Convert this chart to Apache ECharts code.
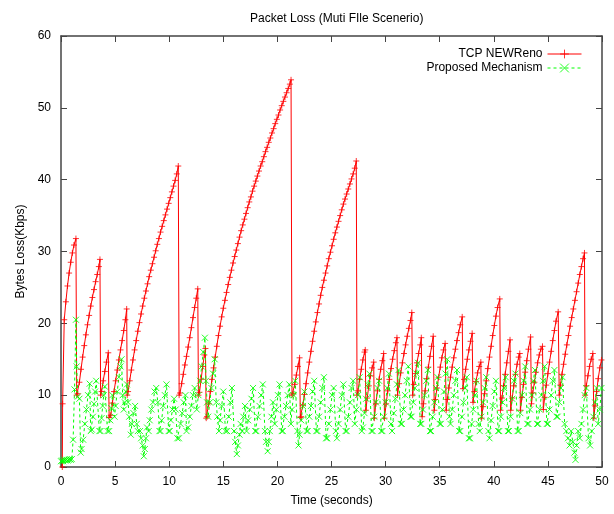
<!DOCTYPE html>
<html>
<head>
<meta charset="utf-8">
<script src="https://cdn.jsdelivr.net/npm/echarts@6/dist/echarts.min.js"></script>
<style>
  html, body { margin: 0; padding: 0; background: #fff; }
  #chart { width: 614px; height: 514px; }
</style>
</head>
<body>
<div id="chart"></div>
<script>
// axis ticks
const timeTicks = [0, 5, 10, 15, 20, 25, 30, 35, 40, 45, 50]
const lossTicks = [0, 10, 20, 30, 40, 50, 60]

// TCP NEWReno: [time (s), loss (Kbps)]
const renoStart = [
  [0.12, 0], [0.15, 8.8], [0.3, 20.5], [0.45, 23], [0.6, 25.2], [0.75, 27], [0.9, 28.5], [1.05, 29.8], [1.2, 30.9], [1.38, 31.8],
  [1.45, 10], [1.55, 10.2], [1.7, 11.8], [1.85, 13.6], [2.0, 15.3], [2.15, 16.9], [2.3, 18.4], [2.45, 19.8], [2.6, 21.1], [2.75, 22.4],
  [2.9, 23.6], [3.05, 24.7], [3.2, 25.8], [3.35, 26.8], [3.5, 27.9], [3.6, 28.9],
  [3.66, 10], [3.75, 10.5], [3.9, 12], [4.05, 13.3], [4.2, 14.6], [4.37, 15.9],
  [4.45, 6.9], [4.6, 7.2], [4.75, 8.9], [4.9, 10.5], [5.05, 12], [5.2, 13.5], [5.35, 14.9], [5.5, 16.3], [5.65, 17.6], [5.8, 19],
  [5.95, 20.5], [6.07, 22]
]
const renoRampA = [
  [6.12, 10], [6.2, 10.5], [6.35, 12], [6.5, 13.5], [6.65, 14.9], [6.8, 16.3], [6.95, 17.6], [7.1, 18.9], [7.25, 20.1], [7.4, 21.3],
  [7.55, 22.4], [7.7, 23.5], [7.85, 24.5], [8.0, 25.5], [8.15, 26.5], [8.3, 27.4], [8.45, 28.3], [8.6, 29.2], [8.75, 30.1], [8.9, 31],
  [9.05, 31.8], [9.2, 32.7], [9.35, 33.5], [9.5, 34.3], [9.65, 35.1], [9.8, 35.9], [9.95, 36.7], [10.1, 37.5], [10.25, 38.3],
  [10.4, 39.1], [10.55, 39.9], [10.7, 40.8], [10.84, 41.9],
  [10.92, 10], [11.0, 10.3], [11.15, 11.6], [11.3, 12.9], [11.45, 14.2], [11.6, 15.4], [11.75, 16.7], [11.9, 18], [12.05, 19.4],
  [12.2, 20.8], [12.35, 22.2], [12.5, 23.5], [12.64, 24.8],
  [12.7, 10], [12.8, 10.4], [12.95, 12.2], [13.1, 14], [13.25, 15.6], [13.35, 16.5],
  [13.42, 6.8]
]
const renoRampB = [
  [13.5, 7], [13.65, 8.8], [13.8, 10.5], [13.95, 12.2], [14.1, 13.8], [14.25, 15.3], [14.4, 16.8], [14.55, 18.3], [14.7, 19.6],
  [14.85, 20.9], [15.0, 22.1], [15.15, 23.2], [15.3, 24.3], [15.45, 25.4], [15.6, 26.4], [15.75, 27.4], [15.9, 28.4], [16.05, 29.3],
  [16.2, 30.2], [16.35, 31.1], [16.5, 32], [16.65, 32.9], [16.8, 33.7], [16.95, 34.5], [17.1, 35.3], [17.25, 36.1], [17.4, 36.9],
  [17.55, 37.6], [17.7, 38.4], [17.85, 39.1], [18.0, 39.8], [18.15, 40.5], [18.3, 41.2], [18.45, 41.9], [18.6, 42.5], [18.75, 43.2],
  [18.9, 43.9], [19.05, 44.5], [19.2, 45.2], [19.35, 45.8], [19.5, 46.5], [19.65, 47.1], [19.8, 47.8], [19.95, 48.4], [20.1, 49],
  [20.25, 49.7], [20.4, 50.3], [20.55, 50.9], [20.7, 51.5], [20.85, 52.1], [21.0, 52.7], [21.15, 53.3], [21.26, 53.9],
  [21.35, 10], [21.45, 10.2], [21.6, 11.5], [21.75, 12.8], [21.9, 14], [22.05, 15.2],
  [22.12, 6.9]
]
const renoRampC = [
  [22.2, 7], [22.35, 8.6], [22.5, 10.1], [22.65, 11.6], [22.8, 13.1], [22.95, 14.6], [23.1, 16.1], [23.25, 17.5], [23.4, 18.9],
  [23.55, 20.2], [23.7, 21.5], [23.85, 22.7], [24.0, 23.9], [24.15, 25], [24.3, 26], [24.45, 27], [24.6, 28], [24.75, 29],
  [24.9, 29.9], [25.05, 30.8], [25.2, 31.7], [25.35, 32.6], [25.5, 33.4], [25.65, 34.2], [25.8, 35], [25.95, 35.8], [26.1, 36.6],
  [26.25, 37.3], [26.4, 38], [26.55, 38.7], [26.7, 39.4], [26.85, 40.1], [27.0, 40.8], [27.15, 41.6], [27.29, 42.6]
]
const renoTail = [
  [27.36, 10], [27.45, 10.6], [27.6, 12.2], [27.75, 13.6], [27.9, 14.9], [28.05, 16], [28.12, 16.3],
  [28.18, 7.9], [28.3, 9.6], [28.45, 11.3], [28.6, 12.7], [28.75, 13.8], [28.9, 14.6],
  [28.96, 6.8], [29.1, 8.8], [29.25, 10.6], [29.4, 12.2], [29.55, 13.6], [29.7, 14.8], [29.82, 15.8],
  [29.9, 6.8], [30.05, 8.8], [30.2, 10.6], [30.35, 12.2], [30.5, 13.7], [30.65, 15], [30.8, 16.2], [30.95, 17.3], [31.05, 18],
  [31.1, 10], [31.25, 11.6], [31.4, 13.1], [31.55, 14.5], [31.7, 15.8], [31.85, 17], [32.0, 18.2], [32.15, 19.3], [32.3, 20.4], [32.42, 21.5],
  [32.5, 10], [32.6, 11.5], [32.75, 13], [32.9, 14.5], [33.05, 15.8], [33.2, 17], [33.3, 18],
  [33.38, 7], [33.5, 8.8], [33.65, 10.6], [33.8, 12.3], [33.95, 13.9], [34.1, 15.4], [34.25, 16.8], [34.4, 18.2],
  [34.5, 7.9], [34.6, 9.4], [34.75, 11], [34.9, 12.5], [35.05, 13.9], [35.2, 15.2], [35.35, 16.3], [35.5, 17.2],
  [35.6, 7.9], [35.7, 9.4], [35.85, 11], [36.0, 12.5], [36.15, 13.9], [36.3, 15.2], [36.45, 16.4], [36.6, 17.6], [36.75, 18.7], [36.9, 19.8], [37.08, 20.9],
  [37.15, 10.9], [37.25, 12.2], [37.4, 13.6], [37.55, 15], [37.7, 16.3], [37.85, 17.5], [38.0, 18.6],
  [38.08, 9], [38.2, 10.5], [38.35, 11.9], [38.5, 13.1], [38.65, 14], [38.8, 14.6],
  [38.88, 6.8], [39.0, 8.4], [39.15, 10.2], [39.3, 12], [39.45, 13.7], [39.6, 15.3], [39.75, 16.8], [39.9, 18.3], [40.05, 19.7], [40.2, 21], [40.35, 22.2], [40.55, 23.4],
  [40.62, 7.9], [40.75, 9.6], [40.9, 11.3], [41.05, 12.9], [41.2, 14.5], [41.35, 16.1], [41.5, 17.7],
  [41.56, 7.9], [41.7, 9.6], [41.85, 11.3], [42.0, 12.9], [42.15, 14.3], [42.3, 15.3], [42.4, 15.8],
  [42.46, 7.9], [42.6, 9.7], [42.75, 11.5], [42.9, 13.2], [43.05, 14.8], [43.2, 16.4], [43.4, 18.1],
  [43.48, 8.8], [43.6, 10.3], [43.75, 11.8], [43.9, 13.2], [44.05, 14.5], [44.2, 15.6], [44.35, 16.4], [44.5, 16.8],
  [44.58, 8], [44.7, 9.7], [44.85, 11.4], [45.0, 13], [45.15, 14.6], [45.3, 16.1], [45.45, 17.6], [45.6, 19], [45.75, 20.3], [45.95, 21.6],
  [46.05, 10], [46.15, 11.4], [46.3, 12.9], [46.45, 14.3], [46.6, 15.7], [46.75, 17], [46.9, 18.3], [47.05, 19.6], [47.2, 20.8],
  [47.35, 22], [47.5, 23.2], [47.65, 24.4], [47.8, 25.6], [47.95, 26.8], [48.1, 27.9], [48.25, 29], [48.38, 29.8],
  [48.44, 10], [48.55, 11.3], [48.7, 12.7], [48.85, 14], [49.0, 15], [49.15, 15.8],
  [49.25, 6.8], [49.35, 8.5], [49.5, 10.5], [49.65, 12.3], [49.8, 13.8], [49.95, 14.9]
]

// Proposed Mechanism: [time (s), loss (Kbps)]
const propEarly = [
  [0.0, 0.8], [0.1, 0.9], [0.2, 0.8], [0.3, 1], [0.4, 0.9], [0.5, 1], [0.6, 0.9], [0.7, 1], [0.8, 1.1], [0.9, 1], [1.0, 1.1],
  [1.12, 3.8], [1.25, 10.8], [1.38, 20.5], [1.45, 14], [1.55, 9.8], [1.7, 9.5], [1.82, 2], [1.9, 2.5],
  [2.05, 3.8], [2.2, 6], [2.35, 8], [2.5, 10], [2.65, 11.6],
  [2.75, 5], [2.85, 5.2], [2.95, 7], [3.05, 8.8], [3.15, 10.5], [3.25, 12],
  [3.55, 5], [3.65, 5], [3.75, 6.8], [3.85, 8.5], [3.95, 10], [4.05, 11.2],
  [4.3, 5], [4.45, 5], [4.55, 6.5], [4.65, 8.2], [4.75, 10],
  [4.95, 7], [5.05, 8.5], [5.2, 10.5], [5.35, 12.5], [5.5, 14], [5.6, 15],
  [5.7, 10], [5.8, 8], [5.9, 9], [6.0, 10.5], [6.1, 11.5], [6.2, 9], [6.3, 7],
  [6.45, 4.5], [6.55, 6], [6.7, 7.5], [6.85, 8.5], [7.0, 6], [7.1, 5],
  [7.3, 5], [7.4, 4], [7.55, 3], [7.65, 1.5], [7.75, 2.5], [7.85, 4], [7.95, 5.5],
  [8.1, 5], [8.2, 6.5], [8.35, 8], [8.5, 9], [8.65, 10.5], [8.8, 11], [8.95, 9],
  [9.1, 5], [9.2, 5], [9.3, 6.5], [9.45, 8.5], [9.6, 10], [9.75, 11.5],
  [9.95, 5], [10.05, 5], [10.15, 6.5], [10.3, 8], [10.45, 9.5], [10.6, 8],
  [10.75, 4], [10.9, 4], [11.05, 6], [11.2, 7.5], [11.35, 9], [11.5, 10],
  [11.6, 5], [11.75, 5.5], [11.9, 7], [12.05, 8.5], [12.2, 10], [12.35, 11],
  [12.55, 8], [12.7, 10], [12.85, 12], [13.0, 14], [13.15, 16], [13.3, 18],
  [13.4, 12], [13.5, 9], [13.6, 7], [13.75, 9], [13.9, 11], [14.05, 13], [14.2, 15],
  [14.35, 9], [14.45, 7], [14.6, 5], [14.7, 6.5], [14.85, 8.5], [15.0, 10.5],
  [15.2, 5], [15.35, 5], [15.5, 7], [15.65, 9], [15.8, 11]
]
const propMiddle = [
  [16.0, 5], [16.1, 3.5], [16.25, 1.8], [16.35, 3], [16.5, 4.5], [16.6, 6], [16.75, 5], [16.85, 7], [17.0, 8.5],
  [17.15, 5], [17.3, 6.5], [17.45, 8], [17.6, 9.5], [17.75, 11],
  [17.95, 5], [18.05, 5], [18.2, 7], [18.35, 8.5], [18.5, 10], [18.65, 11.5],
  [18.85, 5], [18.95, 3.5], [19.1, 2.2], [19.2, 3.5], [19.3, 5], [19.45, 7], [19.6, 9],
  [19.75, 6], [19.9, 8], [20.05, 10], [20.2, 11.5],
  [20.4, 5], [20.5, 5], [20.65, 7], [20.8, 8.5], [20.95, 10], [21.1, 11.5],
  [21.25, 6], [21.35, 8], [21.5, 10], [21.65, 12],
  [21.85, 5], [21.95, 3], [22.05, 4.5], [22.2, 6.5], [22.35, 8.5], [22.5, 10.5],
  [22.7, 5], [22.8, 5], [22.95, 7], [23.1, 8.5], [23.25, 10.5], [23.4, 12],
  [23.6, 5], [23.7, 5], [23.85, 7], [24.0, 9], [24.15, 11], [24.3, 12.5],
  [24.5, 4], [24.6, 4], [24.75, 6], [24.9, 8], [25.05, 10], [25.2, 11],
  [25.4, 5], [25.5, 4], [25.65, 6], [25.8, 8], [25.95, 10], [26.1, 11.5],
  [26.3, 5], [26.4, 5], [26.55, 7], [26.7, 9], [26.85, 11], [27.0, 12],
  [27.15, 6], [27.3, 8], [27.45, 10], [27.6, 12.5]
]
const propLate = [
  [27.8, 5], [27.9, 5.5], [28.05, 7.5], [28.2, 9.5], [28.35, 11.5], [28.5, 13],
  [28.7, 5], [28.8, 5], [28.95, 7], [29.1, 9], [29.25, 11], [29.4, 12],
  [29.6, 5], [29.7, 5], [29.85, 7], [30.0, 9], [30.15, 11], [30.3, 13],
  [30.5, 6], [30.6, 5], [30.75, 7.5], [30.9, 9.5], [31.05, 11.5], [31.2, 13.5],
  [31.4, 6], [31.5, 6], [31.65, 8], [31.8, 10], [31.95, 12], [32.1, 14],
  [32.3, 7], [32.4, 7], [32.55, 9], [32.7, 11], [32.85, 13], [33.0, 14.5],
  [33.2, 6], [33.3, 6], [33.45, 8], [33.6, 10], [33.75, 12], [33.9, 13.5],
  [34.1, 5], [34.2, 5], [34.35, 7], [34.5, 9], [34.65, 11], [34.8, 12.5],
  [35.0, 6], [35.1, 6], [35.25, 8], [35.4, 10.5], [35.55, 13], [35.7, 15],
  [35.9, 7], [36.0, 6], [36.15, 8], [36.3, 10], [36.45, 12], [36.6, 13.5],
  [36.8, 5], [36.9, 5], [37.05, 7], [37.2, 9], [37.35, 11], [37.5, 12.5],
  [37.7, 4], [37.8, 4], [37.95, 6], [38.1, 8], [38.25, 10], [38.4, 12],
  [38.6, 6], [38.7, 5], [38.85, 7], [39.0, 9], [39.15, 11], [39.3, 12.5],
  [39.5, 5], [39.6, 4], [39.75, 6.5], [39.9, 8.5], [40.05, 10.5], [40.2, 12],
  [40.4, 5], [40.5, 5], [40.65, 7], [40.8, 9], [40.95, 11], [41.1, 12.5],
  [41.3, 5], [41.4, 5], [41.55, 7], [41.7, 9.5], [41.85, 12], [42.0, 13],
  [42.2, 5], [42.3, 5], [42.45, 7.5], [42.6, 10], [42.75, 12], [42.9, 14],
  [43.1, 6], [43.2, 6], [43.35, 8], [43.5, 10], [43.65, 12], [43.8, 13.5],
  [44.0, 6], [44.1, 6], [44.25, 8], [44.4, 10], [44.55, 12], [44.7, 14],
  [44.9, 6], [45.0, 6], [45.15, 8], [45.3, 10], [45.45, 12], [45.6, 13.5],
  [45.8, 7], [45.9, 7], [46.05, 9], [46.2, 11], [46.35, 12.5],
  [46.55, 6], [46.7, 5], [46.85, 4], [47.0, 3], [47.15, 5], [47.3, 3.5], [47.45, 2], [47.55, 1], [47.65, 3], [47.8, 5], [47.95, 4],
  [48.1, 6], [48.25, 8], [48.4, 10], [48.55, 11],
  [48.75, 4], [48.9, 3], [49.05, 5], [49.2, 7], [49.35, 9], [49.5, 11],
  [49.65, 6], [49.8, 8], [49.95, 11]
]

const renoData = [...renoStart, ...renoRampA, ...renoRampB, ...renoRampC, ...renoTail]
const propData = [...propEarly, ...propMiddle, ...propLate]

const font = 'Liberation Sans, Arial, Helvetica, sans-serif'
const frameColor = '#444'
const plusPath = 'path://M5,0L5,10M0,5L10,5'
const crossPath = 'path://M0,0L10,10M10,0L0,10'

const chart = echarts.init(document.getElementById('chart'), null, { renderer: 'canvas' })

// mirror axes for gnuplot style box with inward ticks on every side
const baseAxis = (min, max, step) => ({
  type: 'value',
  min: min,
  max: max,
  interval: step,
  axisLine: { show: true, onZero: false, lineStyle: { color: frameColor, width: 1.5 } },
  axisTick: { show: true, inside: true, length: 6, lineStyle: { color: frameColor, width: 1 } },
  splitLine: { show: false }
})

const option = {
  animation: false,
  backgroundColor: '#fff',
  title: {
    text: 'Packet Loss (Muti FIle Scenerio)',
    left: 245,
    top: 8,
    textStyle: { fontFamily: font, fontSize: 12, fontWeight: 'normal', color: '#000' }
  },
  grid: { left: 61, right: 12, top: 36, bottom: 47 },
  legend: {
    orient: 'vertical',
    right: 27,
    top: 43,
    align: 'right',
    itemWidth: 34,
    itemHeight: 11,
    itemGap: 2,
    lineStyle: { width: 1 },
    itemStyle: { borderWidth: 1 },
    textStyle: { fontFamily: font, fontSize: 12, color: '#000' },
    data: ['TCP NEWReno', 'Proposed Mechanism']
  },
  xAxis: [
    Object.assign(baseAxis(timeTicks[0], timeTicks[timeTicks.length - 1], timeTicks[1] - timeTicks[0]), {
      position: 'bottom',
      axisLabel: { color: '#000', fontFamily: font, fontSize: 12, margin: 9 },
      name: 'Time (seconds)',
      nameLocation: 'middle',
      nameGap: 28,
      nameTextStyle: { fontFamily: font, fontSize: 12, color: '#000' }
    }),
    Object.assign(baseAxis(timeTicks[0], timeTicks[timeTicks.length - 1], timeTicks[1] - timeTicks[0]), {
      position: 'top',
      axisLabel: { show: false }
    })
  ],
  yAxis: [
    Object.assign(baseAxis(lossTicks[0], lossTicks[lossTicks.length - 1], lossTicks[1] - lossTicks[0]), {
      position: 'left',
      axisLabel: { color: '#000', fontFamily: font, fontSize: 12, margin: 10 },
      name: 'Bytes Loss(Kbps)',
      nameLocation: 'middle',
      nameGap: 34,
      nameTextStyle: { fontFamily: font, fontSize: 12, color: '#000' }
    }),
    Object.assign(baseAxis(lossTicks[0], lossTicks[lossTicks.length - 1], lossTicks[1] - lossTicks[0]), {
      position: 'right',
      axisLabel: { show: false }
    })
  ],
  series: [
    {
      name: 'TCP NEWReno',
      type: 'line',
      data: renoData,
      symbol: plusPath,
      symbolSize: 6,
      showAllSymbol: true,
      lineStyle: { color: '#ff0000', width: 1 },
      itemStyle: { color: '#ff0000', borderColor: '#ff0000', borderWidth: 1, opacity: 0.8 },
      emphasis: { disabled: true },
      silent: true
    },
    {
      name: 'Proposed Mechanism',
      type: 'line',
      data: propData,
      symbol: crossPath,
      symbolSize: 6,
      showAllSymbol: true,
      lineStyle: { color: '#00ff00', width: 1, type: [3, 3] },
      itemStyle: { color: '#00ff00', borderColor: '#00ff00', borderWidth: 1, opacity: 0.85 },
      emphasis: { disabled: true },
      silent: true
    }
  ]
}

chart.setOption(option)
</script>
</body>
</html>
